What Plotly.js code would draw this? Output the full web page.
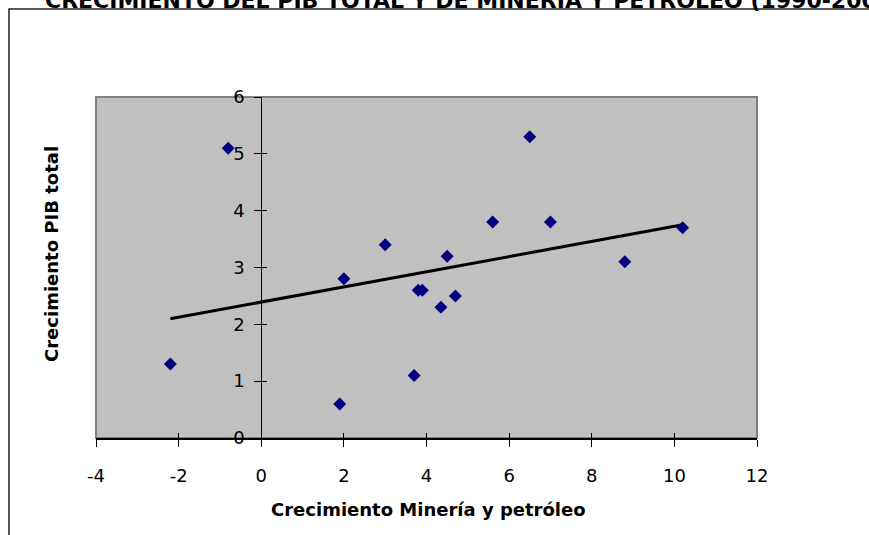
<!DOCTYPE html>
<html>
<head>
<meta charset="utf-8">
<script src="https://cdn.plot.ly/plotly-3.0.1.min.js"></script>
<style>html,body{margin:0;padding:0;background:#fff;}#chart{width:869px;height:535px;}</style>
</head>
<body>
<div id="chart"></div>
<script>
// Data (growth rates, %)
const mineriaPetroleo = [-2.2, -0.8, 2.0, 1.9, 3.0, 3.7, 3.8, 3.9, 4.35, 4.5, 4.7, 5.6, 6.5, 7.0, 8.8, 10.2];
const pibTotal        = [ 1.3,  5.1, 2.8, 0.6, 3.4, 1.1, 2.6, 2.6, 2.3,  3.2, 2.5, 3.8, 5.3, 3.8, 3.1, 3.7];
const xTickVals = [-4, -2, 0, 2, 4, 6, 8, 10, 12];
const xTickText = ["-4", "-2", "0", "2", "4", "6", "8", "10", "12"];
const yTickVals = [0, 1, 2, 3, 4, 5, 6];
const yTickText = ["0", "1", "2", "3", "4", "5", "6"];
const chartTitle = "CRECIMIENTO DEL PIB TOTAL Y DE MINERÍA Y PETRÓLEO (1990-2005)";
const xTitle = "Crecimiento Minería y petróleo";
const yTitle = "Crecimiento PIB total";

// Linear trend (least squares) computed from the data
const n = mineriaPetroleo.length;
const mx = mineriaPetroleo.reduce((a, b) => a + b, 0) / n;
const my = pibTotal.reduce((a, b) => a + b, 0) / n;
let sxy = 0, sxx = 0;
for (let i = 0; i < n; i++) {
  sxy += (mineriaPetroleo[i] - mx) * (pibTotal[i] - my);
  sxx += (mineriaPetroleo[i] - mx) ** 2;
}
const slope = sxy / sxx, intercept = my - slope * mx;
const xMin = Math.min(...mineriaPetroleo), xMax = Math.max(...mineriaPetroleo);
const trendX = [xMin, xMax];
const trendY = trendX.map(v => intercept + slope * v);

const FONT = "DejaVu Sans, Arial, sans-serif";

// plot area pixel geometry helpers (for paper coords of decorations)
const L = 96, R = 757, T = 97, B = 438;
const px = v => (v - L) / (R - L);
const py = v => (B - v) / (B - T);

const traces = [
  {x: trendX, y: trendY, type: "scatter", mode: "lines",
   line: {color: "#000000", width: 3}, hoverinfo: "skip"},
  {x: mineriaPetroleo, y: pibTotal, type: "scatter", mode: "markers",
   marker: {symbol: "diamond", size: 10, color: "#000080", line: {width: 0}}},
  {x: [], y: [], xaxis: "x2", yaxis: "y2", type: "scatter", mode: "markers"}
];

const axisCommon = {showgrid: false, tickcolor: "#000", tickwidth: 1,
  tickfont: {family: FONT, size: 18, color: "#000"}};

const layout = {
  width: 869, height: 535,
  margin: {l: L, r: 869 - R, t: T, b: 535 - B, pad: 0},
  paper_bgcolor: "#ffffff",
  plot_bgcolor: "#c0c0c0",
  showlegend: false,
  hovermode: false,
  xaxis: Object.assign({}, axisCommon, {
    range: [-4, 12], tickmode: "array", tickvals: xTickVals, ticktext: xTickText,
    ticks: "outside", ticklen: 7, ticklabelstandoff: 14,
    showline: true, linecolor: "#000", linewidth: 1.5,
    zeroline: true, zerolinecolor: "#000", zerolinewidth: 1
  }),
  yaxis: Object.assign({}, axisCommon, {
    range: [0, 6], tickmode: "array", tickvals: yTickVals, ticktext: yTickText,
    anchor: "free", position: 0.25, ticks: "outside", ticklen: 7, ticklabelstandoff: 6,
    showline: false, zeroline: false
  }),
  xaxis2: {range: [-4, 12], overlaying: "x", anchor: "y", side: "bottom",
    tickmode: "array", tickvals: xTickVals, ticks: "inside", ticklen: 5,
    tickcolor: "#000", showticklabels: false, showgrid: false, zeroline: false, showline: false},
  yaxis2: {range: [0, 6], overlaying: "y", anchor: "free", position: 0.25,
    tickmode: "array", tickvals: yTickVals, ticks: "inside", ticklen: 5,
    tickcolor: "#000", showticklabels: false, showgrid: false, zeroline: false, showline: false},
  shapes: [
    {type: "rect", xref: "paper", yref: "paper", x0: 0, x1: 1, y0: 0, y1: 1,
     line: {color: "#808080", width: 2}, layer: "below"},
    {type: "path", xref: "paper", yref: "paper",
     path: `M ${px(9)},${py(545)} L ${px(9)},${py(9)} L ${px(880)},${py(9)}`,
     line: {color: "#222", width: 1.5}}
  ],
  annotations: [
    {text: chartTitle, xref: "paper", yref: "paper", x: px(43), y: py(0),
     xanchor: "left", yanchor: "middle", showarrow: false,
     font: {family: FONT, size: 22, color: "#000", weight: "bold"}},
    {text: xTitle, xref: "paper", yref: "paper", x: px(428), y: py(509),
     xanchor: "center", yanchor: "middle", showarrow: false,
     font: {family: FONT, size: 18, color: "#000", weight: "bold"}},
    {text: yTitle, xref: "paper", yref: "paper", x: px(51), y: py(254),
     xanchor: "center", yanchor: "middle", showarrow: false, textangle: -90,
     font: {family: FONT, size: 18, color: "#000", weight: "bold"}}
  ]
};

Plotly.newPlot("chart", traces, layout, {displayModeBar: false, staticPlot: true});
</script>
</body>
</html>
